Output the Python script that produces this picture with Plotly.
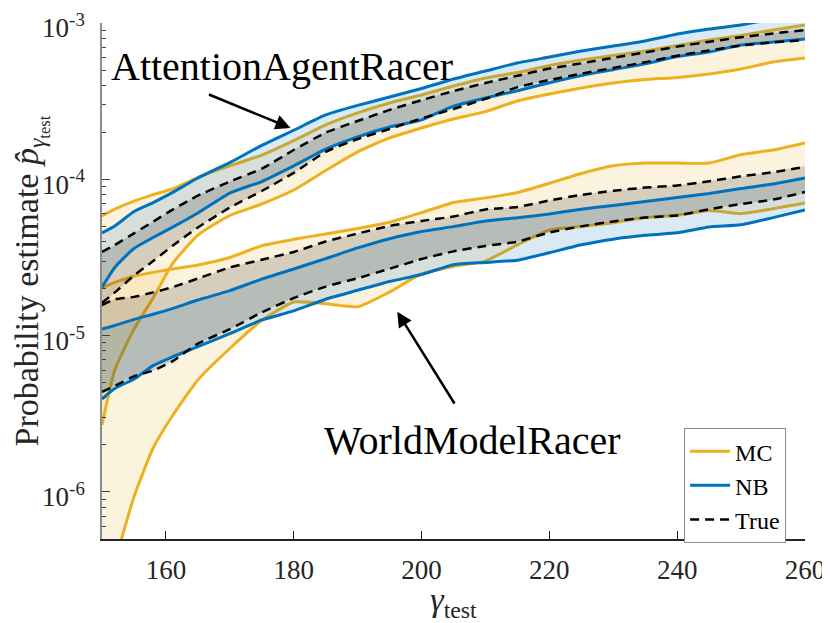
import numpy as np
import plotly.graph_objects as go

# gamma_test grid shared by all curves
gamma = [150, 152, 155, 158, 161, 165, 170, 175, 180, 185, 190, 195, 200,
         205, 210, 215, 220, 225, 230, 235, 240, 245, 250, 255, 260]

# AttentionAgentRacer
aa_mc_hi = [5.83e-5, 6.45e-5, 7.26e-5, 7.98e-5, 8.67e-5, 1.03e-4, 1.22e-4, 1.43e-4, 1.77e-4,
            2.23e-4, 2.66e-4, 3.08e-4, 3.46e-4, 3.95e-4, 4.45e-4, 4.82e-4, 5.35e-4, 5.80e-4,
            6.20e-4, 6.62e-4, 7.18e-4, 7.78e-4, 8.32e-4, 9.02e-4, 9.71e-4]
aa_mc_lo = [2.68e-6, 6.02e-6, 1.10e-5, 1.74e-5, 2.87e-5, 4.40e-5, 5.87e-5, 6.95e-5, 8.54e-5,
            1.14e-4, 1.50e-4, 1.84e-4, 2.13e-4, 2.43e-4, 2.71e-4, 3.17e-4, 3.51e-4, 3.84e-4,
            4.13e-4, 4.35e-4, 4.48e-4, 4.72e-4, 5.08e-4, 5.63e-4, 5.97e-4]
aa_nb_hi = [4.54e-5, 5.03e-5, 6.22e-5, 7.10e-5, 8.22e-5, 1.02e-4, 1.28e-4, 1.65e-4, 2.06e-4,
            2.58e-4, 2.97e-4, 3.36e-4, 3.81e-4, 4.38e-4, 4.93e-4, 5.55e-4, 6.06e-4, 6.62e-4,
            7.12e-4, 7.67e-4, 8.50e-4, 9.15e-4, 9.71e-4, 1.06e-3, 1.12e-3]
aa_nb_lo = [2.04e-5, 2.73e-5, 3.61e-5, 4.24e-5, 4.93e-5, 6.09e-5, 8.17e-5, 9.68e-5, 1.22e-4,
            1.56e-4, 1.87e-4, 2.16e-4, 2.40e-4, 2.94e-4, 3.31e-4, 3.69e-4, 4.15e-4, 4.61e-4,
            5.03e-4, 5.48e-4, 6.10e-4, 6.52e-4, 7.23e-4, 7.57e-4, 7.90e-4]
aa_true_hi = [3.43e-5, 3.80e-5, 4.51e-5, 5.36e-5, 6.38e-5, 7.86e-5, 9.68e-5, 1.17e-4, 1.54e-4,
              1.99e-4, 2.36e-4, 2.78e-4, 3.21e-4, 3.67e-4, 4.13e-4, 4.60e-4, 5.11e-4, 5.52e-4,
              6.00e-4, 6.49e-4, 7.06e-4, 7.59e-4, 8.11e-4, 8.57e-4, 9.02e-4]
aa_true_lo = [1.62e-5, 1.89e-5, 2.42e-5, 3.00e-5, 3.75e-5, 4.92e-5, 6.60e-5, 8.42e-5, 1.10e-4,
              1.50e-4, 1.81e-4, 2.10e-4, 2.45e-4, 2.82e-4, 3.27e-4, 3.89e-4, 4.32e-4, 4.74e-4,
              5.16e-4, 5.61e-4, 6.18e-4, 6.67e-4, 7.18e-4, 7.51e-4, 7.78e-4]

# WorldModelRacer
wm_mc_hi = [2.02e-5, 2.19e-5, 2.40e-5, 2.54e-5, 2.67e-5, 2.83e-5, 3.16e-5, 3.76e-5, 4.13e-5,
            4.47e-5, 4.85e-5, 5.31e-5, 6.12e-5, 7.11e-5, 7.61e-5, 8.23e-5, 9.43e-5, 1.09e-4,
            1.22e-4, 1.27e-4, 1.27e-4, 1.27e-4, 1.44e-4, 1.54e-4, 1.71e-4]
wm_mc_lo = [1.92e-7, 3.56e-7, 9.28e-7, 1.91e-6, 3.06e-6, 5.20e-6, 8.27e-6, 1.25e-5, 1.64e-5,
            1.60e-5, 1.53e-5, 1.90e-5, 2.48e-5, 2.77e-5, 3.00e-5, 3.81e-5, 4.74e-5, 4.99e-5,
            5.27e-5, 5.69e-5, 5.88e-5, 6.31e-5, 6.03e-5, 6.48e-5, 7.05e-5]
wm_nb_hi = [1.10e-5, 1.16e-5, 1.27e-5, 1.37e-5, 1.49e-5, 1.69e-5, 1.94e-5, 2.30e-5, 2.67e-5,
            3.11e-5, 3.64e-5, 4.17e-5, 4.64e-5, 4.98e-5, 5.41e-5, 5.68e-5, 6.00e-5, 6.44e-5,
            6.81e-5, 7.22e-5, 7.66e-5, 8.12e-5, 8.73e-5, 9.33e-5, 1.02e-4]
wm_nb_lo = [3.93e-6, 4.59e-6, 5.27e-6, 6.43e-6, 7.30e-6, 8.50e-6, 1.03e-5, 1.26e-5, 1.44e-5,
            1.71e-5, 1.95e-5, 2.22e-5, 2.46e-5, 2.84e-5, 2.94e-5, 3.04e-5, 3.39e-5, 3.81e-5,
            4.14e-5, 4.38e-5, 4.55e-5, 4.95e-5, 5.12e-5, 5.69e-5, 6.36e-5]
wm_true_hi = [1.57e-5, 1.71e-5, 1.77e-5, 1.89e-5, 2.04e-5, 2.32e-5, 2.73e-5, 3.06e-5, 3.43e-5,
              4.00e-5, 4.50e-5, 5.03e-5, 5.42e-5, 5.78e-5, 6.42e-5, 6.65e-5, 7.32e-5, 7.95e-5,
              8.45e-5, 8.85e-5, 9.14e-5, 9.71e-5, 1.045e-4, 1.11e-4, 1.20e-4]
wm_true_lo = [4.36e-6, 4.76e-6, 5.49e-6, 5.97e-6, 6.85e-6, 8.89e-6, 1.10e-5, 1.41e-5, 1.74e-5,
              2.06e-5, 2.33e-5, 2.68e-5, 3.09e-5, 3.46e-5, 3.75e-5, 3.99e-5, 4.57e-5, 5.00e-5,
              5.38e-5, 5.69e-5, 5.87e-5, 6.44e-5, 6.95e-5, 7.42e-5, 8.29e-5]

ytick_vals = [1e-6, 1e-5, 1e-4, 1e-3]
ytick_text = ["10<sup>-6</sup>", "10<sup>-5</sup>", "10<sup>-4</sup>", "10<sup>-3</sup>"]
xtick_vals = [160, 180, 200, 220, 240, 260]

MC_COL = "#EDB120"
NB_COL = "#0072BD"
FONT = "Liberation Serif, Times New Roman, DejaVu Serif, serif"
SMOOTH = 0.5

fig = go.Figure()


def add_band(hi, lo, color):
    # filled region between two curves
    fig.add_trace(go.Scatter(
        x=gamma + gamma[::-1], y=hi + lo[::-1], fill="toself",
        fillcolor=color, line=dict(width=0, shape="spline", smoothing=SMOOTH),
        mode="lines", showlegend=False, hoverinfo="skip"))


def add_line(y, color, name, show, dash="solid", width=3):
    fig.add_trace(go.Scatter(
        x=gamma, y=y, mode="lines", name=name, legendgroup=name, showlegend=show,
        line=dict(color=color, width=width, dash=dash, shape="spline", smoothing=SMOOTH)))


groups = [
    (aa_mc_hi, aa_mc_lo, aa_nb_hi, aa_nb_lo, aa_true_hi, aa_true_lo),
    (wm_mc_hi, wm_mc_lo, wm_nb_hi, wm_nb_lo, wm_true_hi, wm_true_lo),
]

# MC bands first, then NB + True bands on top, black dashed last
for g in groups:
    add_band(g[0], g[1], "rgba(237,177,32,0.15)")
for i, g in enumerate(groups):
    add_line(g[0], MC_COL, "MC", i == 0)
    add_line(g[1], MC_COL, "MC", False)
for g in groups:
    add_band(g[2], g[3], "rgba(0,114,189,0.15)")
    add_band(g[4], g[5], "rgba(0,0,0,0.15)")
for i, g in enumerate(groups):
    add_line(g[2], NB_COL, "NB", i == 0)
    add_line(g[3], NB_COL, "NB", False)
for i, g in enumerate(groups):
    add_line(g[4], "black", "True", i == 0, dash="9px,6px", width=2.5)
    add_line(g[5], "black", "True", False, dash="9px,6px", width=2.5)

minor_vals = [k * 10.0 ** e for e in (-7, -6, -5, -4) for k in range(2, 10)]
minor_vals = [v for v in minor_vals if 5e-7 <= v <= 1e-3]

fig.update_xaxes(
    range=[150, 260], tickvals=xtick_vals, ticks="inside", ticklen=8,
    tickcolor="#262626", showline=True, linecolor="#262626", linewidth=1.5,
    showgrid=False, zeroline=False, ticklabelstandoff=6, automargin=False,
    ticklabeloverflow="allow",
    tickfont=dict(family=FONT, size=27, color="#262626"),
    title=dict(text="<i>γ</i><sub>test</sub>", standoff=2,
               font=dict(family=FONT, size=34, color="#262626")))
fig.update_yaxes(
    type="log", range=[np.log10(5e-7), -3], tickvals=ytick_vals, ticktext=ytick_text,
    ticks="inside", ticklen=8, tickcolor="#404040", showline=True,
    linecolor="#8c8c8c", linewidth=1.5, showgrid=False, zeroline=False,
    ticklabelstandoff=10, ticklabelshift=5, automargin=False, ticklabeloverflow="allow",
    minor=dict(tickvals=minor_vals, ticks="inside", ticklen=4, tickcolor="#404040"),
    tickfont=dict(family=FONT, size=27, color="#262626"),
    title=dict(text="Probability estimate <i>p̂</i><sub><i>γ</i><sub>test</sub></sub>",
               standoff=6, font=dict(family=FONT, size=34, color="#262626")))

# labels and arrows
fig.add_annotation(x=178.1, y=np.log10(5.3e-4), text="AttentionAgentRacer", showarrow=False,
                   font=dict(family=FONT, size=40, color="black"))
fig.add_annotation(x=179.5, y=np.log10(2.13e-4), ax=166.5, ay=np.log10(3.52e-4),
                   axref="x", ayref="y", text="", showarrow=True, arrowhead=2,
                   arrowsize=1.2, arrowwidth=2.5, arrowcolor="black")
fig.add_annotation(x=207.9, y=np.log10(2.12e-6), text="WorldModelRacer", showarrow=False,
                   font=dict(family=FONT, size=40, color="black"))
fig.add_annotation(x=196.2, y=np.log10(1.42e-5), ax=205.3, ay=np.log10(3.6e-6),
                   axref="x", ayref="y", text="", showarrow=True, arrowhead=2,
                   arrowsize=1.2, arrowwidth=2.5, arrowcolor="black")

# page body adds an 8px offset, so the figure is sized 8px smaller
fig.update_layout(
    width=822, height=615,
    margin=dict(l=94, r=25, t=15, b=84),
    paper_bgcolor="white", plot_bgcolor="white",
    legend=dict(x=0.828, y=0.215, xanchor="left", yanchor="top",
                bordercolor="#8c8c8c", borderwidth=1, bgcolor="white",
                font=dict(family=FONT, size=24, color="black"),
                tracegroupgap=0, itemwidth=40),
)

fig.write_html("out.html")
